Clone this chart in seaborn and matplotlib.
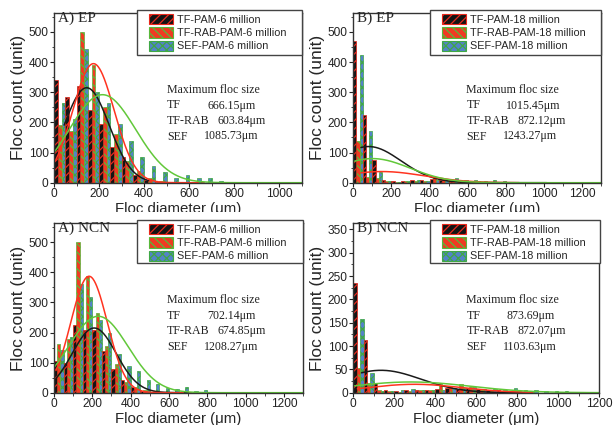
import numpy as np
import pandas as pd
import seaborn as sns
import matplotlib.pyplot as plt
import matplotlib.colors as mcolors
from matplotlib.patches import Patch, Rectangle
from matplotlib.ticker import MultipleLocator
from matplotlib.transforms import Bbox, TransformedBbox

sns.set_style("ticks")
plt.rcParams['font.family'] = ['Liberation Sans', 'DejaVu Sans']
plt.rcParams['hatch.linewidth'] = 0.9

W, H = 614, 425
BIN = 50  # histogram bin width (um)

# floc counts per 50 um bin (0-50, 50-100, ...)
ep6_tf = [340, 285, 320, 242, 195, 118, 85, 25, 8, 3, 2, 1, 1, 1]
ep6_rab = [192, 170, 500, 392, 252, 160, 72, 40, 15, 6, 3, 2, 1]
ep6_sef = [265, 212, 445, 300, 265, 195, 140, 85, 55, 35, 15, 26, 15, 14, 7, 2, 1, 1, 1, 1, 1, 1]

ep18_tf = [470, 225, 75, 8, 5, 6, 10, 10, 12, 10, 8, 8, 5, 4, 3, 2, 2, 1, 1, 1, 1]
ep18_rab = [140, 20, 15, 5, 3, 4, 6, 6, 18, 12, 10, 6, 4, 3, 2, 2, 1, 1]
ep18_sef = [425, 170, 35, 5, 3, 4, 8, 6, 10, 8, 14, 10, 10, 6, 10, 4, 2, 2, 1, 1, 1, 1, 1, 1, 1]

ncn6_tf = [105, 100, 225, 210, 210, 140, 80, 42, 20, 5, 2, 1, 1, 1, 1]
ncn6_rab = [162, 178, 500, 388, 266, 155, 97, 36, 20, 8, 4, 2, 1, 1]
ncn6_sef = [142, 186, 362, 318, 242, 199, 130, 90, 72, 42, 28, 16, 12, 18, 7, 8, 3, 2, 3, 2, 1, 1, 1, 1, 1]

ncn18_tf = [236, 114, 20, 6, 4, 5, 5, 6, 8, 10, 8, 10, 7, 6, 5, 3, 3, 2]
ncn18_rab = [52, 21, 6, 3, 2, 4, 5, 6, 18, 14, 18, 12, 8, 6, 4, 3, 2, 1]
ncn18_sef = [159, 43, 4, 3, 5, 7, 5, 6, 6, 10, 10, 12, 8, 7, 6, 11, 6, 5, 4, 3, 3, 2, 1]

# gaussian fit curves (TF, TF-RAB, SEF): height, centre, width, drawn range
ep6_amp, ep6_mid, ep6_sd = [315, 395, 292], [145, 175, 215], [100, 92, 147]
ep6_from, ep6_to = [45, 5, 0], [420, 640, 1100]
ep18_amp, ep18_mid, ep18_sd = [120, 37, 80], [80, 150, 100], [170, 225, 198]
ep18_from, ep18_to = [40, 40, 0], [1015, 870, 1300]
ncn6_amp, ncn6_mid, ncn6_sd = [215, 387, 254], [210, 183, 231], [115, 95, 155]
ncn6_from, ncn6_to = [10, 10, 0], [700, 675, 1300]
ncn18_amp, ncn18_mid, ncn18_sd = [48, 18, 23], [135, 300, 280], [195, 230, 290]
ncn18_from, ncn18_to = [40, 20, 0], [875, 875, 1200]

names6 = ["TF-PAM-6 million", "TF-RAB-PAM-6 million", "SEF-PAM-6 million"]
names18 = ["TF-PAM-18 million", "TF-RAB-PAM-18 million", "SEF-PAM-18 million"]
size_names = ["TF", "TF-RAB", "SEF"]
ep6_sizes = ["666.15μm", "603.84μm", "1085.73μm"]
ep18_sizes = ["1015.45μm", "872.12μm", "1243.27μm"]
ncn6_sizes = ["702.14μm", "674.85μm", "1208.27μm"]
ncn18_sizes = ["873.69μm", "872.07μm", "1103.63μm"]

# bar styling: face, hatch/edge colour, hatch
FACE = ['#141414', '#f03a22', '#5383c8']
EDGE = ['#e8281c', '#58b83a', '#3fa845']
HATCH = ['////', '\\\\\\\\', 'xxxx']
LINE = ['#1a1a1a', '#ff3320', '#62c83a']

fig = plt.figure(figsize=(W / 100, H / 100), dpi=100)


def draw_panel(box, counts, names, amp, mid, sd, x0s, x1s, xmax, ymax, ystep,
               tag, sizes, leg_box, clip_label):
    left, top, right, bottom = box
    ax = fig.add_axes([left / W, 1 - bottom / H, (right - left) / W, (bottom - top) / H])

    rows = []
    for name, vals in zip(names, counts):
        for i, c in enumerate(vals):
            rows.append({'diameter': BIN * (i + 0.5), 'count': c, 'series': name})
    df = pd.DataFrame(rows)
    pal = dict(zip(names, FACE))
    sns.histplot(data=df, x='diameter', weights='count', hue='series', hue_order=names,
                 palette=pal, multiple='dodge', binwidth=BIN, binrange=(0, xmax),
                 shrink=1, alpha=1, legend=False, ax=ax)

    face_idx = {mcolors.to_hex(c): k for k, c in enumerate(FACE)}
    for cont in ax.containers:
        k = face_idx[mcolors.to_hex(cont.patches[0].get_facecolor())]
        for p in cont.patches:
            if p.get_height() <= 0:
                p.set_visible(False)
                continue
            p.set_hatch(HATCH[k])
            p.set_edgecolor(EDGE[k])
            p.set_linewidth(0.5)

    for k in range(3):
        xs = np.linspace(x0s[k], x1s[k], 300)
        ys = amp[k] * np.exp(-(xs - mid[k]) ** 2 / (2 * sd[k] ** 2))
        sns.lineplot(x=xs, y=ys, color=LINE[k], lw=1.1, ax=ax, errorbar=None)

    ax.set_xlim(0, xmax)
    ax.set_ylim(0, ymax)
    ax.xaxis.set_major_locator(MultipleLocator(200))
    ax.xaxis.set_minor_locator(MultipleLocator(100))
    ax.yaxis.set_major_locator(MultipleLocator(ystep))
    ax.yaxis.set_minor_locator(MultipleLocator(ystep / 2))
    ax.tick_params(which='major', direction='out', length=3, width=0.8,
                   labelsize=8.6, pad=1, colors='#222')
    ax.tick_params(which='minor', direction='out', length=1.8, width=0.6)
    for s in ax.spines.values():
        s.set_linewidth(1.0)
        s.set_color('#333')
    ax.set_xlabel('Floc diameter (μm)', fontsize=10.8, labelpad=1)
    ax.set_ylabel('Floc count (unit)', fontsize=12.5, labelpad=2)
    if clip_label:
        clip = TransformedBbox(Bbox.from_extents(0, 1 - 212 / H, 1, 1), fig.transFigure)
        ax.xaxis.label.set_clip_box(clip)
        ax.xaxis.label.set_clip_on(True)

    # legend frame and entries
    fx0, fy0, fx1, fy1 = leg_box
    fig.add_artist(Rectangle((fx0 / W, 1 - fy1 / H), (fx1 - fx0) / W, (fy1 - fy0) / H,
                             transform=fig.transFigure, facecolor='white',
                             edgecolor='#444', lw=1.0, zorder=1))
    handles = [Patch(facecolor=FACE[k], edgecolor=EDGE[k], hatch=HATCH[k], lw=0.8, label=names[k])
               for k in range(3)]
    fig.legend(handles=handles, loc='upper left',
               bbox_to_anchor=((fx0 + 12) / W, 1 - (fy0 + 4) / H),
               bbox_transform=fig.transFigure, frameon=False, fontsize=7.8,
               handlelength=2.25, handleheight=1.1, handletextpad=0.35,
               labelspacing=0.22, borderpad=0, borderaxespad=0)

    # panel tag and maximum floc size note
    fig.text((left + 4) / W, 1 - (top + 5) / H, tag, family='Liberation Serif',
             fontsize=11, va='center')
    tx = left + 113
    ty = top + 77
    serif = dict(family='Liberation Serif', fontsize=8.6, va='center', color='#222')
    fig.text(tx / W, 1 - ty / H, 'Maximum floc size', **serif)
    for k, dx in enumerate([40, 51, 37]):
        y = ty + 15.5 * (k + 1)
        fig.text(tx / W, 1 - y / H, size_names[k], **serif)
        fig.text((tx + dx) / W, 1 - y / H, sizes[k], **serif)
    return ax


draw_panel((54, 13, 302, 182.7), [ep6_tf, ep6_rab, ep6_sef], names6,
           ep6_amp, ep6_mid, ep6_sd, ep6_from, ep6_to, 1100, 563, 100,
           'A) EP', ep6_sizes, (137, 10, 302, 55), True)
draw_panel((353.3, 13, 601, 182.7), [ep18_tf, ep18_rab, ep18_sef], names18,
           ep18_amp, ep18_mid, ep18_sd, ep18_from, ep18_to, 1300, 563, 100,
           'B) EP', ep18_sizes, (430, 10, 601, 55), True)
draw_panel((54, 223.3, 303, 392.7), [ncn6_tf, ncn6_rab, ncn6_sef], names6,
           ncn6_amp, ncn6_mid, ncn6_sd, ncn6_from, ncn6_to, 1300, 563, 100,
           'A) NCN', ncn6_sizes, (137, 220, 303, 263.3), False)
draw_panel((353.3, 223.3, 599, 392.7), [ncn18_tf, ncn18_rab, ncn18_sef], names18,
           ncn18_amp, ncn18_mid, ncn18_sd, ncn18_from, ncn18_to, 1200, 363, 50,
           'B) NCN', ncn18_sizes, (430, 220, 600, 263.3), False)

fig.savefig("out.png", dpi=100)
